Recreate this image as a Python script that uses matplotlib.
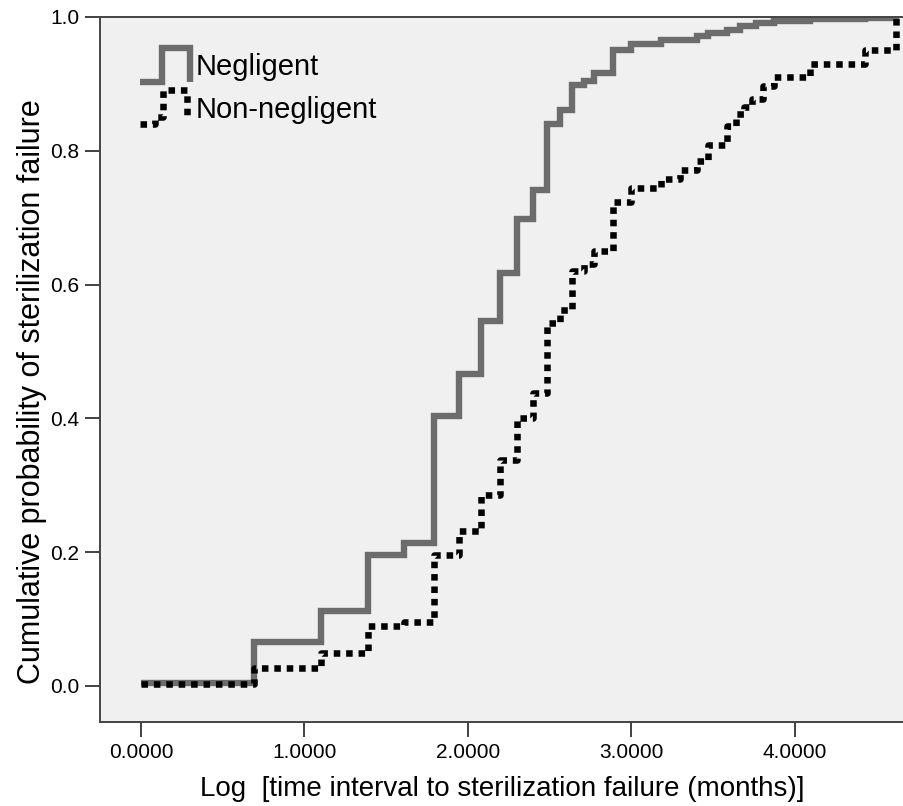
import numpy as np
import matplotlib
matplotlib.use("Agg")
import matplotlib.pyplot as plt
from matplotlib.legend_handler import HandlerBase
from matplotlib.lines import Line2D

plt.rcParams['font.family'] = ['Liberation Sans', 'DejaVu Sans']

# time to failure in months (x axis is the natural log of it)
neg_months = [1, 2, 3, 4, 5, 6, 7, 8, 9, 10, 11, 12, 13, 14, 15, 16, 18, 20,
              24, 30, 32, 36, 39, 43, 48, 60, 84, 101]
neg_cum = [0.004, 0.065, 0.112, 0.196, 0.214, 0.404, 0.466, 0.546, 0.618,
           0.698, 0.741, 0.840, 0.861, 0.899, 0.905, 0.916, 0.951, 0.959,
           0.965, 0.971, 0.976, 0.981, 0.986, 0.991, 0.994, 0.997, 0.999, 1.0]

nonneg_months = [1, 2, 3, 4, 5, 6, 7, 8, 9, 10, 11, 12, 13, 14, 15, 16, 18,
                 20, 24, 27, 30, 32, 36, 38, 40, 42, 45, 48, 60, 84, 101]
nonneg_cum = [0.003, 0.027, 0.049, 0.089, 0.096, 0.195, 0.232, 0.286, 0.338,
              0.400, 0.438, 0.542, 0.562, 0.620, 0.630, 0.650, 0.724, 0.744,
              0.758, 0.772, 0.785, 0.808, 0.837, 0.855, 0.865, 0.878, 0.897,
              0.911, 0.930, 0.950, 1.0]

xticks = [0, 1, 2, 3, 4]
yticks = [0.0, 0.2, 0.4, 0.6, 0.8, 1.0]

GRAY = '#6c6c6c'


class StepHandler(HandlerBase):
    # legend icon drawn as a little step shape, like the SPSS output
    def __init__(self, shape):
        super().__init__()
        self.shape = shape

    def create_artists(self, legend, orig_handle, xdescent, ydescent,
                       width, height, fontsize, trans):
        xs = [p[0] * width - xdescent for p in self.shape]
        ys = [p[1] * height * 1.65 - ydescent - 0.32 * height for p in self.shape]
        ln = Line2D(xs, ys)
        self.update_prop(ln, orig_handle, legend)
        ln.set_transform(trans)
        return [ln]


fig = plt.figure(figsize=(9.04, 8.06), dpi=100)
ax = fig.add_axes([100 / 904, 1 - 722 / 806, 804 / 904, 705 / 806])
ax.set_facecolor('#f0f0f0')

h1, = ax.step(np.log(neg_months), neg_cum, where='post', color=GRAY,
              lw=4.6, solid_capstyle='butt', solid_joinstyle='miter')
h2, = ax.step(np.log(nonneg_months), nonneg_cum, where='post', color='black',
              lw=4.7, dashes=(1, 0.9), dash_capstyle='butt')

ax.set_xlim(-0.25, 4.667)
ax.set_ylim(-0.054, 1.0)
ax.set_xticks(xticks)
ax.set_xticklabels(['%.4f' % t for t in xticks])
ax.set_yticks(yticks)
ax.set_yticklabels(['%.1f' % t for t in yticks])
ax.tick_params(length=11, width=1.3, color='#333333', labelsize=15, pad=4)

for s in ['left', 'bottom', 'top']:
    ax.spines[s].set_color('#444444')
    ax.spines[s].set_linewidth(1.4)
ax.spines['right'].set_visible(False)

ax.set_xlabel('Log  [time interval to sterilization failure (months)]',
              fontsize=20, labelpad=10)
ax.set_ylabel('Cumulative probability of sterilization failure', fontsize=22)
ax.yaxis.set_label_coords(-0.066, 0.468)

neg_shape = [(0, 0), (0.44, 0), (0.44, 1), (1, 1), (1, 0)]
non_shape = [(0, 0), (0.3, 0), (0.3, 0.2), (0.47, 0.2), (0.47, 1), (0.95, 1),
             (0.95, 0.15)]
ax.legend([h1, h2], ['Negligent', 'Non-negligent'], loc='upper left',
          bbox_to_anchor=(40 / 804, 669 / 705), frameon=False, fontsize=21,
          borderpad=0, borderaxespad=0,
          handlelength=1.7, handletextpad=0.22, labelspacing=0.5,
          handler_map={h1: StepHandler(neg_shape), h2: StepHandler(non_shape)})

fig.savefig('out.png', dpi=100)
